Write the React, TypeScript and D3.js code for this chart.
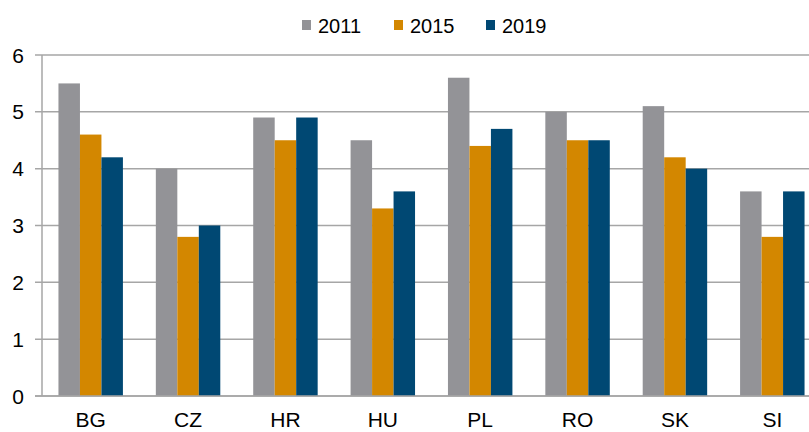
import React, { useEffect, useRef } from 'react';
import * as d3 from 'd3';

const countries = ['BG', 'CZ', 'HR', 'HU', 'PL', 'RO', 'SK', 'SI'];
const years = ['2011', '2015', '2019'];
const values2011 = [5.5, 4.0, 4.9, 4.5, 5.6, 5.0, 5.1, 3.6];
const values2015 = [4.6, 2.8, 4.5, 3.3, 4.4, 4.5, 4.2, 2.8];
const values2019 = [4.2, 3.0, 4.9, 3.6, 4.7, 4.5, 4.0, 3.6];
const yTicks = [0, 1, 2, 3, 4, 5, 6];
const colors = ['#939397', '#d38700', '#004873'];

const Chart: React.FC = () => {
    const svgRef = useRef<SVGSVGElement>(null);

    useEffect(() => {
        if (!svgRef.current) return;
        const svg = d3.select(svgRef.current);
        svg.selectAll('*').remove();
        const width = 809;
        const left = 42;
        const series = [values2011, values2015, values2019];

        const x0 = d3.scaleBand<string>()
            .domain(countries)
            .range([left, 821])
            .paddingInner(0.338)
            .paddingOuter(0.169);

        const x1 = d3.scaleBand<string>()
            .domain(years)
            .range([0, x0.bandwidth()]);

        const y = d3.scaleLinear()
            .domain([0, 6])
            .range([396, 55]);

        const font = '"Liberation Sans", Arial, sans-serif';

        // grid lines
        svg.append('g')
            .selectAll('line')
            .data(yTicks)
            .join('line')
            .attr('x1', left - 7)
            .attr('x2', width)
            .attr('y1', d => y(d))
            .attr('y2', d => y(d))
            .style('stroke', '#a6a6a6')
            .style('stroke-width', 1.5);

        svg.append('line')
            .attr('x1', left)
            .attr('x2', left)
            .attr('y1', y(6))
            .attr('y2', y(0))
            .style('stroke', '#a6a6a6')
            .style('stroke-width', 1.5);

        // bars
        const groups = svg.append('g')
            .selectAll('g')
            .data(countries)
            .join('g')
            .attr('transform', d => `translate(${x0(d)},0)`);

        groups.selectAll('rect')
            .data((_, i) => years.map((yr, k) => ({ yr, v: series[k][i], k })))
            .join('rect')
            .attr('x', d => x1(d.yr) as number)
            .attr('width', x1.bandwidth())
            .attr('y', d => y(d.v))
            .attr('height', d => y(0) - y(d.v))
            .style('fill', d => colors[d.k]);

        svg.append('line')
            .attr('x1', left - 7)
            .attr('x2', width)
            .attr('y1', y(0))
            .attr('y2', y(0))
            .style('stroke', '#a6a6a6')
            .style('stroke-width', 1.5);

        // y tick labels
        svg.append('g')
            .selectAll('text')
            .data(yTicks)
            .join('text')
            .attr('x', 24)
            .attr('y', d => y(d) + 7.5)
            .attr('text-anchor', 'end')
            .style('font-family', font)
            .style('font-size', '21px')
            .style('fill', '#000')
            .text(d => d);

        // x labels
        svg.append('g')
            .selectAll('text')
            .data(countries)
            .join('text')
            .attr('x', d => (x0(d) as number) + x0.bandwidth() / 2)
            .attr('y', 427)
            .attr('text-anchor', 'middle')
            .style('font-family', font)
            .style('font-size', '21px')
            .style('fill', '#000')
            .text(d => d);

        // legend
        const legend = svg.append('g')
            .selectAll('g')
            .data(years)
            .join('g')
            .attr('transform', (_, i) => `translate(${302 + i * 92},0)`);

        legend.append('rect')
            .attr('x', 0)
            .attr('y', 20)
            .attr('width', 9)
            .attr('height', 10)
            .style('fill', (_, i) => colors[i]);

        legend.append('text')
            .attr('x', 16)
            .attr('y', 33)
            .style('font-family', font)
            .style('font-size', '20px')
            .style('fill', '#000')
            .text(d => d);
    }, []);

    return (
        <svg
            ref={svgRef}
            width={809}
            height={432}
            style={{ position: 'absolute', left: 0, top: 0, overflow: 'hidden' }}
        />
    );
};

const App: React.FC = () => <Chart />;

export default App;
